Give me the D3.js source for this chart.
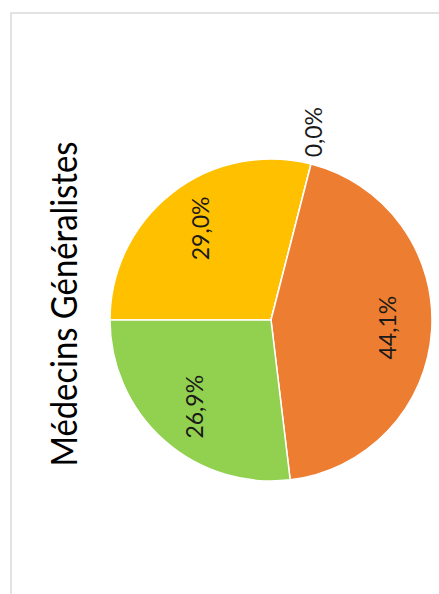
<!DOCTYPE html>
<html>
<head>
<meta charset="utf-8">
<script src="https://cdn.jsdelivr.net/npm/d3@7"></script>
<style>
  html, body { margin: 0; padding: 0; background: #ffffff; }
  svg { display: block; }
</style>
</head>
<body>
<svg id="chart" width="439" height="594"></svg>
<script>
// Répartition des médecins généralistes (parts en %)
const categories = ["Catégorie 1", "Catégorie 2", "Catégorie 3", "Catégorie 4"];
const values = [29.0, 0.0, 44.1, 26.9];
const colors = ["#FFC000", "#A5A5A5", "#ED7D31", "#92D050"];
const valueLabels = ["29,0%", "0,0%", "44,1%", "26,9%"];
const title = "Médecins Généralistes";

const svg = d3.select("#chart");
const W = 439, H = 594;

// chart frame (top and left edges visible)
svg.append("path")
  .attr("d", `M11,${H} L11,13 L${W},13`)
  .attr("fill", "none")
  .attr("stroke", "#d9d9d9")
  .attr("stroke-width", 1.5);

// title, written vertically
svg.append("text")
  .attr("transform", "translate(77,304) rotate(-90)")
  .attr("text-anchor", "middle")
  .attr("font-family", "Lato, 'Open Sans', sans-serif")
  .attr("font-size", 37)
  .attr("fill", "#000000")
  .attr("textLength", 325)
  .attr("lengthAdjust", "spacingAndGlyphs")
  .text(title);

const cx = 271, cy = 320, r = 161;
const g = svg.append("g").attr("transform", `translate(${cx},${cy})`);

const data = categories.map((c, i) => ({ cat: c, value: values[i], color: colors[i], label: valueLabels[i] }));

const pie = d3.pie()
  .sort(null)
  .value(d => d.value)
  .startAngle(-Math.PI / 2)
  .endAngle(3 * Math.PI / 2);

const arcs = pie(data);
const arc = d3.arc().innerRadius(0).outerRadius(r);
const labelArc = d3.arc().innerRadius(r * 0.72).outerRadius(r * 0.72);

g.selectAll("path.slice")
  .data(arcs)
  .join("path")
  .attr("class", "slice")
  .attr("d", arc)
  .attr("fill", d => d.data.color)
  .attr("stroke", "#ffffff")
  .attr("stroke-width", 1.5)
  .attr("stroke-linejoin", "round");

// value labels: inside for visible slices, outside for empty ones
g.selectAll("text.val")
  .data(arcs)
  .join("text")
  .attr("class", "val")
  .attr("font-family", "Lato, 'Open Sans', sans-serif")
  .attr("font-size", 23)
  .attr("fill", "#1a1a1a")
  .attr("dominant-baseline", "central")
  .attr("text-anchor", d => d.data.value > 0 ? "middle" : "start")
  .attr("transform", d => {
    let p;
    if (d.data.value > 0) {
      p = labelArc.centroid(d);
    } else {
      const a = (d.startAngle + d.endAngle) / 2;
      p = [Math.sin(a) * (r + 7), -Math.cos(a) * (r + 7)];
    }
    return `translate(${p[0]},${p[1]}) rotate(-90)`;
  })
  .text(d => d.data.label);
</script>
</body>
</html>
